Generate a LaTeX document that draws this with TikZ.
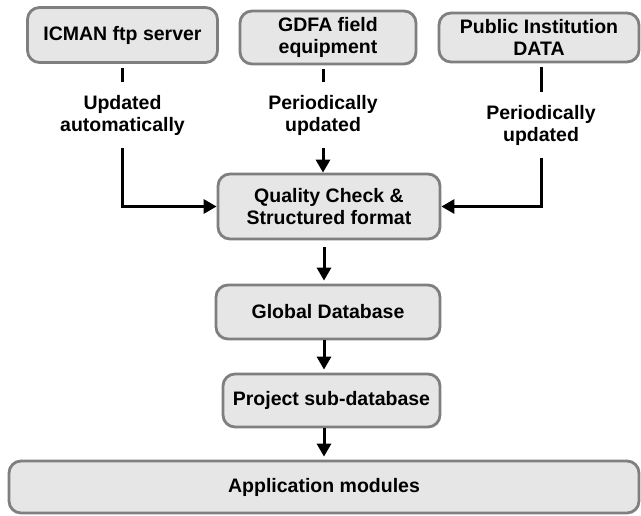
\documentclass[tikz,border=0pt]{standalone}
\usepackage{fontspec}
\setmainfont{Liberation Sans}
\usepackage{tikz}
\usetikzlibrary{arrows.meta}
\definecolor{boxfill}{HTML}{E6E6E6}
\definecolor{boxline}{HTML}{7F7F7F}
\begin{document}
\begin{tikzpicture}[x=1pt, y=-1pt, >={Triangle[length=13pt,width=14pt]},
		font=\fontsize{19.5}{22}\selectfont\bfseries,
		box/.style={rectangle, rounded corners=12pt, draw=boxline, line width=2.8pt, fill=boxfill, align=center, inner sep=0pt},
		note/.style={align=center, minimum height=66pt, inner sep=0pt},
		link/.style={line width=3pt}]
				\useasboundingbox (0,0) rectangle (641,515);
				\coordinate (axis) at (324,0);
				
				\node[box, minimum width=190pt, minimum height=55pt] (icman) at (122.5,35) {ICMAN ftp server};
				\node[box, minimum width=176pt, minimum height=53pt] (gdfa) at (328,37.5) {GDFA field\\equipment};
				\node[box, minimum width=200pt, minimum height=49pt] (public) at (539,37.5) {Public Institution\\DATA};
				\node[box, minimum width=222pt, minimum height=65pt] (quality) at (329,206.5) {Quality Check \&\\Structured format};
				\node[box, minimum width=224pt, minimum height=54pt] (global) at (328,312) {Global Database};
				\node[box, minimum width=217pt, minimum height=53pt] (project) at (331.5,400.5) {Project sub-database};
				\node[box, minimum width=630pt, minimum height=52pt] (app) at (324,487) {Application modules};
				
				\node[note] (upd1) at (122.5,115) {Updated\\automatically};
				\node[note] (upd2) at (323,115) {Periodically\\updated};
				\node[note] (upd3) at (541,125) {Periodically\\updated};
				
				\draw[link, shorten <=4pt]  (icman) -- (upd1);
				\draw[link, shorten <=4pt]  (upd2 |- gdfa.south) -- (upd2);
				\draw[link, shorten <=4pt]  (upd3 |- public.south) -- (upd3);
				\draw[link, ->]  (upd1) |- (quality);
				\draw[link, ->]  (upd2) -- (upd2 |- quality.north);
				\draw[link, ->]  (upd3) |- (quality);
				\draw[link, ->, shorten <=7pt, shorten >=3pt]  (quality.south -| axis) -- (global.north -| axis);
				\draw[link, ->, shorten >=3pt]  (global.south -| axis) -- (project.north -| axis);
				\draw[link, ->, shorten >=3pt]  (project.south -| axis) -- (app.north -| axis);
			\end{tikzpicture}
\end{document}
